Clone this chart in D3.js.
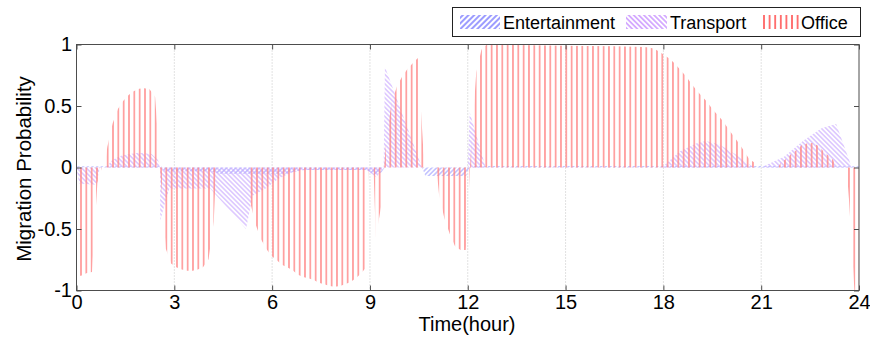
<!DOCTYPE html>
<html>
<head>
<meta charset="utf-8">
<script src="https://cdn.jsdelivr.net/npm/d3@7"></script>
<style>
  body { margin: 0; background: #fff; }
  svg { display: block; font-family: "Liberation Sans", Arial, sans-serif; }
</style>
</head>
<body>
<svg id="chart" width="870" height="337"></svg>
<script>
// [hour, probability]
const office = [
  [0, -0.88], [0.14, -0.88], [0.30, -0.86], [0.475, -0.85], [0.64, -0.125], [0.78, 0], [0.86, 0],
  [0.945, 0.166], [1.11, 0.36], [1.27, 0.475], [1.43, 0.54], [1.60, 0.59], [1.75, 0.62],
  [1.92, 0.64], [2.08, 0.645], [2.24, 0.636], [2.41, 0.576], [2.74, -0.66], [2.90, -0.78],
  [3.06, -0.81], [3.23, -0.83], [3.39, -0.84], [3.56, -0.84], [3.72, -0.83], [3.88, -0.81],
  [4.05, -0.745], [4.21, -0.44], [4.28, 0], [5.26, 0], [5.33, -0.285], [5.49, -0.46],
  [5.65, -0.58], [5.82, -0.66], [5.98, -0.72], [6.13, -0.75], [6.30, -0.79], [6.46, -0.81],
  [6.63, -0.835], [6.78, -0.87], [6.95, -0.89], [7.11, -0.90], [7.28, -0.915], [7.43, -0.936],
  [7.60, -0.95], [7.76, -0.963], [7.92, -0.97], [8.08, -0.963], [8.24, -0.95], [8.40, -0.93],
  [8.57, -0.90], [8.73, -0.86], [8.89, -0.81], [8.95, 0], [9.11, 0], [9.18, -0.57],
  [9.34, -0.32], [9.51, 0.245], [9.67, 0.535], [9.83, 0.66], [9.99, 0.74], [10.15, 0.80],
  [10.32, 0.85], [10.47, 0.89], [10.64, 0.13], [10.72, 0], [11.04, 0], [11.12, -0.22],
  [11.28, -0.41], [11.45, -0.54], [11.61, -0.64], [11.78, -0.67], [11.94, -0.67], [12.10, 0.14],
  [12.26, 0.77], [12.42, 0.957], [12.58, 1.0], [13.5, 0.995], [15, 0.99], [16.5, 0.985],
  [17.4, 0.98], [17.56, 0.975], [17.72, 0.965], [17.89, 0.94], [18.05, 0.91], [18.21, 0.88],
  [18.37, 0.84], [18.53, 0.79], [18.70, 0.74], [18.85, 0.685], [19.01, 0.63], [19.18, 0.58],
  [19.34, 0.535], [19.50, 0.475], [19.65, 0.43], [19.82, 0.38], [19.98, 0.32], [20.14, 0.26],
  [20.31, 0.20], [20.46, 0.14], [20.63, 0.07], [20.79, 0.04], [20.87, 0], [21.52, 0],
  [21.60, 0.04], [21.76, 0.07], [21.92, 0.11], [22.08, 0.14], [22.24, 0.18], [22.40, 0.195],
  [22.57, 0.20], [22.72, 0.18], [22.88, 0.14], [23.05, 0.10], [23.21, 0.06], [23.29, 0],
  [23.62, 0], [23.69, -0.25], [23.86, -1.0], [24, -1.0]
];

const transport = [
  [0, 0], [0.08, -0.13], [0.6, -0.14], [0.72, 0], [0.9, 0], [1.1, 0.06], [1.4, 0.1],
  [1.9, 0.12], [2.3, 0.11], [2.5, 0.06], [2.56, 0], [2.57, -0.43], [2.7, -0.3], [2.85, -0.17],
  [4.1, -0.17], [5.2, -0.5], [5.4, -0.23], [5.8, -0.17], [6.2, -0.09], [6.6, -0.04],
  [7.0, -0.02], [8.9, -0.02], [9.2, -0.08], [9.42, 0], [9.46, 0.82], [10.6, 0], [12.0, 0],
  [12.06, 0.45], [12.55, 0], [17.95, 0], [18.5, 0.13], [19.0, 0.196], [19.3, 0.215],
  [19.7, 0.19], [20.2, 0.11], [20.6, 0.03], [20.8, 0], [21.0, 0], [21.7, 0.087], [22.3, 0.22],
  [22.85, 0.32], [23.3, 0.353], [23.78, 0], [24, 0]
];

const entertainment = [
  [0, 0.01], [2.6, 0.01], [2.7, -0.03], [4.1, -0.03], [4.4, -0.05], [6.4, -0.05], [6.9, -0.02],
  [8.9, -0.02], [9.15, -0.06], [9.35, -0.04], [9.45, 0], [10.6, 0], [10.7, -0.07],
  [11.95, -0.07], [12.05, 0], [12.2, 0.012], [20.9, 0.012], [24, 0.01]
];

const xTicks = [0, 3, 6, 9, 12, 15, 18, 21, 24];
const yTicks = [-1, -0.5, 0, 0.5, 1];
const legendNames = ["Entertainment", "Transport", "Office"];

const svg = d3.select("#chart");
const plotL = 76.5, plotR = 859, plotT = 44.5, plotB = 290.5;

const x = d3.scaleLinear().domain([0, 24]).range([plotL, plotR]);
const y = d3.scaleLinear().domain([-1, 1]).range([plotB, plotT]);

const defs = svg.append("defs");

function diagHatch(id, color, angle, gap, sw) {
  const p = defs.append("pattern")
    .attr("id", id)
    .attr("patternUnits", "userSpaceOnUse")
    .attr("width", gap)
    .attr("height", gap)
    .attr("patternTransform", `rotate(${angle})`);
  p.append("line")
    .attr("x1", 0).attr("y1", gap / 2)
    .attr("x2", gap).attr("y2", gap / 2)
    .attr("stroke", color)
    .attr("stroke-width", sw);
}

function vertHatch(id, color, gap, x0, sw) {
  const p = defs.append("pattern")
    .attr("id", id)
    .attr("patternUnits", "userSpaceOnUse")
    .attr("x", x0 - gap / 2)
    .attr("y", 0)
    .attr("width", gap)
    .attr("height", 10);
  p.append("line")
    .attr("x1", gap / 2).attr("y1", 0)
    .attr("x2", gap / 2).attr("y2", 10)
    .attr("stroke", color)
    .attr("stroke-width", sw);
}

diagHatch("entHatch", "#9f9fff", -45, 3.3, 1);
diagHatch("traHatch", "#c9a7ff", 45, 3.3, 1);
vertHatch("offHatch", "#ff8787", 5.333, 81, 1.4);
diagHatch("entLeg", "#5a5aff", -45, 4, 1.2);
diagHatch("traLeg", "#b872ff", 45, 3.6, 1.1);
vertHatch("offLeg", "#ff4a4a", 5.6, 764, 1.5);

// grid
svg.append("g")
  .selectAll("line")
  .data(xTicks.slice(1, -1))
  .join("line")
  .attr("x1", d => x(d)).attr("x2", d => x(d))
  .attr("y1", plotT).attr("y2", plotB)
  .attr("stroke", "#c4c4c4")
  .attr("stroke-dasharray", "1,2");

const area = d3.area()
  .x(d => x(d[0]))
  .y0(y(0))
  .y1(d => y(d[1]));

const plot = svg.append("g");
plot.append("path").datum(entertainment).attr("d", area).attr("fill", "url(#entHatch)");
plot.append("path").datum(transport).attr("d", area).attr("fill", "url(#traHatch)");
plot.append("path").datum(office).attr("d", area).attr("fill", "url(#offHatch)");

// frame and ticks
const axisColor = "#4d4d4d";
svg.append("rect")
  .attr("x", plotL).attr("y", plotT)
  .attr("width", plotR - plotL).attr("height", plotB - plotT)
  .attr("fill", "none")
  .attr("stroke", axisColor);

function styleAxis(g) {
  g.select(".domain").remove();
  g.selectAll(".tick line").attr("stroke", axisColor);
  g.selectAll(".tick text")
    .attr("fill", "#000")
    .attr("font-size", 20)
    .attr("font-family", "Liberation Sans, Arial, sans-serif");
}

svg.append("g")
  .attr("transform", `translate(0,${plotB})`)
  .call(d3.axisBottom(x).tickValues(xTicks).tickSize(-5).tickPadding(4.5).tickFormat(d => String(d)))
  .call(styleAxis);

svg.append("g")
  .attr("transform", `translate(0,${plotT})`)
  .call(d3.axisTop(x).tickValues(xTicks).tickSize(-5).tickFormat(""))
  .call(styleAxis);

svg.append("g")
  .attr("transform", `translate(${plotL},0)`)
  .call(d3.axisLeft(y).tickValues(yTicks).tickSize(-5).tickPadding(4.5).tickFormat(d => String(d)))
  .call(styleAxis);

svg.append("g")
  .attr("transform", `translate(${plotR},0)`)
  .call(d3.axisRight(y).tickValues(yTicks).tickSize(-5).tickFormat(""))
  .call(styleAxis);

// axis titles
svg.append("text")
  .attr("x", 467).attr("y", 331)
  .attr("text-anchor", "middle")
  .attr("font-size", 20)
  .text("Time(hour)");

svg.append("text")
  .attr("transform", "translate(31,169) rotate(-90)")
  .attr("text-anchor", "middle")
  .attr("font-size", 20.5)
  .text("Migration Probability");

// legend
const leg = svg.append("g");
leg.append("rect")
  .attr("x", 452.5).attr("y", 7.5)
  .attr("width", 408).attr("height", 29)
  .attr("fill", "#fff")
  .attr("stroke", "#222");

const swatches = [
  { fill: "url(#entLeg)", x: 460, w: 40, tx: 503 },
  { fill: "url(#traLeg)", x: 626, w: 41, tx: 670 },
  { fill: "url(#offLeg)", x: 761, w: 38, tx: 801 }
];

swatches.forEach((s, i) => {
  leg.append("rect")
    .attr("x", s.x).attr("y", 15)
    .attr("width", s.w).attr("height", 14)
    .attr("fill", s.fill);
  leg.append("text")
    .attr("x", s.tx).attr("y", 28.5)
    .attr("font-size", 18)
    .text(legendNames[i]);
});
</script>
</body>
</html>
